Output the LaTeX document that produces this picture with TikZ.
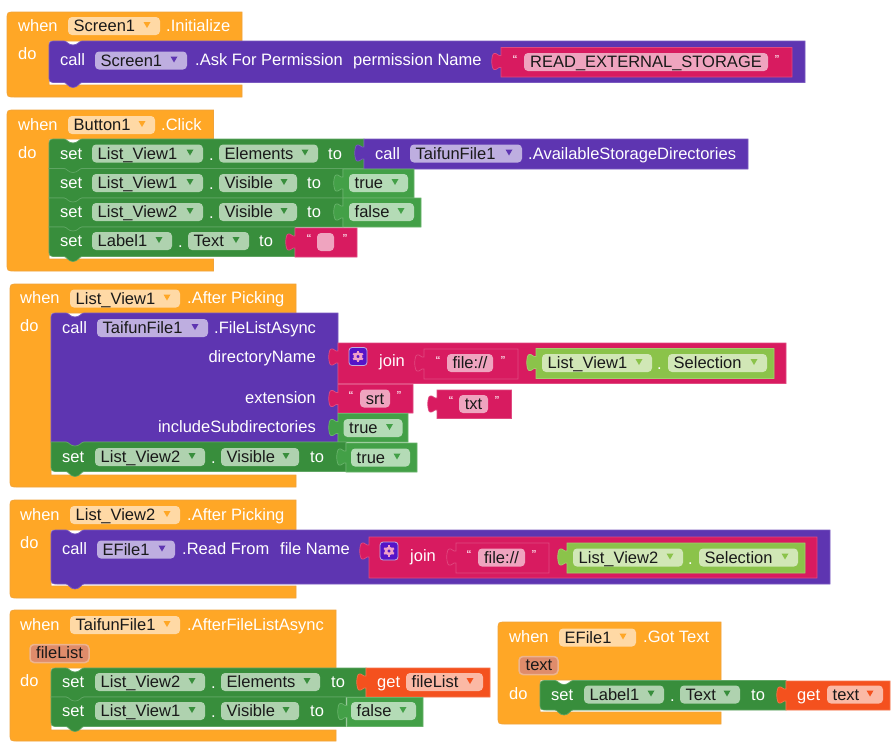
\documentclass[tikz,border=0pt]{standalone}
\usepackage{fontspec}
\setmainfont{Liberation Sans}
\definecolor{cOr}{HTML}{FFA726}\definecolor{cOrE}{HTML}{F0A33A}\definecolor{fOr}{HTML}{FFD9A5}
\definecolor{cPu}{HTML}{5E35B1}\definecolor{ePu}{HTML}{7A5AC0}\definecolor{fPu}{HTML}{BEAEE0}
\definecolor{cGr}{HTML}{388E3C}\definecolor{eGr}{HTML}{5FA563}\definecolor{fGr}{HTML}{AFD2AF}
\definecolor{cLg}{HTML}{43A047}\definecolor{eLg}{HTML}{68B36B}\definecolor{fLg}{HTML}{B4DBB6}
\definecolor{cPk}{HTML}{D81B60}\definecolor{ePk}{HTML}{E04A80}\definecolor{fPk}{HTML}{EFA4BF}
\definecolor{cLi}{HTML}{8BC34A}\definecolor{eLi}{HTML}{A2CF6E}\definecolor{fLi}{HTML}{D1E7B6}
\definecolor{cRe}{HTML}{F4511E}\definecolor{eRe}{HTML}{F6734A}\definecolor{fRe}{HTML}{FBB9A5}
\definecolor{cPa}{HTML}{DF8C6B}\definecolor{ePa}{HTML}{EDB48F}
\definecolor{cGe}{HTML}{5514C8}\definecolor{fGe}{HTML}{F0A0C8}
\newcounter{nn}
\tikzset{
  x=1pt,y=-1pt,
  lab/.style={anchor=base west,inner sep=0pt,text=white,font=\fontsize{16.5}{18}\selectfont},
  labr/.style={anchor=base east,inner sep=0pt,text=white,font=\fontsize{16.5}{18}\selectfont},
  flab/.style={anchor=base west,inner sep=0pt,text=black!90,font=\fontsize{16.5}{18}\selectfont},
  clab/.style={anchor=base,inner sep=0pt,text=black!90,font=\fontsize{16.5}{18}\selectfont},
  qlab/.style={anchor=base,inner sep=0pt,text=white,font=\fontsize{13}{14}\selectfont},
  edge/.style={line width=0.7pt},
}
% text in white: x, yc, text
\newcommand{\lbl}[3]{\stepcounter{nn}\node[lab] (n\thenn) at (#1,#2+5.5) {#3};}
\newcommand{\lblr}[3]{\stepcounter{nn}\node[labr] (n\thenn) at (#1,#2+5.5) {#3};}
% dropdown: x1,x2,yc,suffix colour,text
\newcommand{\fld}[5]{\stepcounter{nn}
  \fill[f#4,rounded corners=4pt] (#1,#3-9) rectangle (#2,#3+9);
  \node[flab] (n\thenn) at (#1+5.5,#3+5.5) {#5};
  \fill[c#4] (#2-16.5,#3-4) -- (#2-9.5,#3-4) -- (#2-13,#3+2) -- cycle;}
% text field: x1,x2,yc,text
\newcommand{\tfld}[4]{\stepcounter{nn}
  \fill[fPk,rounded corners=4pt] (#1,#3-9) rectangle (#2,#3+9);
  \node[clab] (n\thenn) at ({(#1+#2)/2},#3+5.5) {#4};}
% event: L,T,R,H,Ix,F,B
\newcommand{\evt}[7]{\filldraw[fill=cOr,draw=cOrE,edge] (#1,#2+8) .. controls (#1,#2) .. (#1+8,#2) -- (#3,#2) -- (#3,#4) -- (#5,#4) -- (#5,#6) -- (#3,#6) -- (#3,#7) -- (#1+8,#7) .. controls (#1,#7) .. (#1,#7-8) -- cycle;}
% statement: colour,x1,y1,x2,y2,rt,rb
\newcommand{\stm}[7]{\filldraw[fill=c#1,draw=e#1,edge] (#2,#3+#6) .. controls (#2,#3) .. (#2+#6,#3) -- (#2+15,#3) .. controls (#2+18,#3) and (#2+19,#3+4) .. (#2+24,#3+4) .. controls (#2+29,#3+4) and (#2+30,#3) .. (#2+33,#3) -- (#4,#3) -- (#4,#5)
  -- (#2+33,#5) .. controls (#2+30,#5) and (#2+29,#5+5) .. (#2+24,#5+5) .. controls (#2+19,#5+5) and (#2+18,#5) .. (#2+15,#5)
  -- (#2+#7,#5) .. controls (#2,#5) .. (#2,#5-#7) -- cycle;}
% value with puzzle tab: colour,x1,y1,x2,y2
\newcommand{\val}[5]{\filldraw[fill=c#1,draw=e#1,edge] (#2,#3) -- (#4,#3) -- (#4,#5) -- (#2,#5) -- (#2,#3+20) .. controls (#2-3,#3+19) and (#2-4,#3+23) .. (#2-7,#3+22) .. controls (#2-10,#3+21) and (#2-10,#3+7) .. (#2-7,#3+6) .. controls (#2-4,#3+5) and (#2-3,#3+9) .. (#2,#3+8) -- cycle;}
% gear icon: x,y top-left
\newcommand{\gear}[2]{
  \filldraw[fill=cGe,draw=fPu,line width=0.8pt,rounded corners=3pt] (#1,#2) rectangle (#1+18,#2+18);
  \draw[fGe,line width=2.6pt] (#1+9,#2+9) circle[radius=3];
  \foreach \a in {30,90,...,330}{\draw[fGe,line width=2.2pt] (#1+9,#2+9) ++(\a:3.6) -- ++(\a:2);}
}
\newcommand{\quot}[3]{\stepcounter{nn}\node[qlab] (n\thenn) at (#1,#2+2) {“};\stepcounter{nn}\node[qlab] (n\thenn) at (#3,#2+2) {”};}
\begin{document}
\begin{tikzpicture}
\useasboundingbox (0,0) rectangle (896,745);
\fill[white] (0,0) rectangle (896,745);
% ---- event 1
\evt{7}{12}{242}{41}{49}{85}{97}
\lbl{18}{25.5}{when}\fld{68}{160}{26}{Or}{Screen1}\lbl{166}{25.5}{.Initialize}\lbl{18}{54}{do}
\stm{Pu}{49}{41}{805}{82.5}{8}{8}
\lbl{60}{60}{call}\fld{95}{187}{60.5}{Pu}{Screen1}\lbl{195}{60}{.Ask For Permission}\lbl{353}{60}{permission Name}
\val{Pk}{501}{47.5}{792}{77}
\quot{515}{62}{777}\tfld{524}{768}{62}{READ\_EXTERNAL\_STORAGE}
% ---- event 2
\evt{7}{110}{213.5}{139}{49}{259}{271}
\lbl{18}{124.5}{when}\fld{68}{155}{125}{Or}{Button1}\lbl{161}{124.5}{.Click}\lbl{18}{153}{do}
\stm{Gr}{49}{139}{364}{168.5}{8}{0}
\lbl{60}{153.5}{set}\fld{92}{203}{153.5}{Gr}{List\_View1}\lbl{209}{154.5}{.}\fld{219}{318}{153.5}{Gr}{Elements}\lbl{328}{153.5}{to}
\val{Pu}{364}{139}{748}{169}
\lbl{375}{153.5}{call}\fld{410}{522}{153.5}{Pu}{TaifunFile1}\lbl{528}{153.5}{.AvailableStorageDirectories}
\stm{Gr}{49}{168.5}{343}{198}{0}{0}
\lbl{60}{183}{set}\fld{92}{203}{183}{Gr}{List\_View1}\lbl{209}{184}{.}\fld{219}{297}{183}{Gr}{Visible}\lbl{307}{183}{to}
\val{Lg}{343}{169}{414}{198}\fld{349}{408}{183}{Lg}{true}
\stm{Gr}{49}{198}{343}{227}{0}{0}
\lbl{60}{212}{set}\fld{92}{203}{212}{Gr}{List\_View2}\lbl{209}{213}{.}\fld{219}{297}{212}{Gr}{Visible}\lbl{307}{212}{to}
\val{Lg}{343}{198}{421}{227}\fld{349}{414}{212}{Lg}{false}
\stm{Gr}{49}{227}{295}{256.5}{0}{8}
\lbl{60}{241}{set}\fld{92}{172}{241}{Gr}{Label1}\lbl{178}{242}{.}\fld{188}{249}{241}{Gr}{Text}\lbl{259}{241}{to}
\val{Pk}{295}{228}{357}{257}\quot{309}{241}{345}\tfld{317}{334}{242}{}
% ---- event 3
\evt{10}{284}{296}{313}{51}{475}{487}
\lbl{20}{298}{when}\fld{70}{180}{298.5}{Or}{List\_View1}\lbl{187}{298}{.After Picking}\lbl{20}{326}{do}
\stm{Pu}{51}{313}{338}{442}{8}{0}
\lbl{62}{328}{call}\fld{97}{208}{328}{Pu}{TaifunFile1}\lbl{214}{328}{.FileListAsync}
\lblr{316}{356.5}{directoryName}\lblr{316}{398}{extension}\lblr{316}{427}{includeSubdirectories}
\val{Pk}{338}{343}{786}{383.5}
\gear{349}{347.5}\lbl{379}{361}{join}
\val{Pk}{424}{349}{518}{379}\quot{438}{363}{503}\tfld{447}{493}{363}{file://}
\val{Li}{536}{348.5}{774}{378.5}\fld{542}{652}{363}{Li}{List\_View1}\lbl{657}{364}{\textcolor{white}{.}}\fld{668}{767}{363}{Li}{Selection}
\val{Pk}{338}{384.5}{413}{413}\quot{351}{398.5}{399}\tfld{360}{390}{398.5}{srt}
\val{Pk}{437}{390}{511.5}{418.5}\quot{451}{403.5}{497}\tfld{459}{488}{404}{txt}
\val{Lg}{338}{413.5}{408}{442}\fld{343.5}{402.5}{428}{Lg}{true}
\stm{Gr}{51}{442}{346}{471.5}{0}{8}
\lbl{62}{457}{set}\fld{95}{205}{457}{Gr}{List\_View2}\lbl{211}{458}{.}\fld{221}{299}{457}{Gr}{Visible}\lbl{310}{457}{to}
\val{Lg}{346}{443}{417}{472}\fld{351}{410}{457.5}{Lg}{true}
% ---- event 4
\evt{10}{500}{296}{530}{51}{586}{598}
\lbl{20}{514.5}{when}\fld{70}{180}{515}{Or}{List\_View2}\lbl{187}{514.5}{.After Picking}\lbl{20}{543}{do}
\stm{Pu}{51}{530}{830}{584}{8}{8}
\lbl{62}{549}{call}\fld{97}{175}{549.5}{Pu}{EFile1}\lbl{182}{549}{.Read From}\lbl{280}{549}{file Name}
\val{Pk}{369}{537}{817}{578}
\gear{380}{542}\lbl{410}{556}{join}
\val{Pk}{456}{543}{549}{573}\quot{469}{557}{534}\tfld{478}{525}{557.5}{file://}
\val{Li}{567}{543}{805}{573}\fld{573}{683}{557.5}{Li}{List\_View2}\lbl{688}{558.5}{\textcolor{white}{.}}\fld{699}{798}{557.5}{Li}{Selection}
% ---- event 5
\evt{10}{610}{336}{668}{51}{730}{741}
\lbl{20}{624.5}{when}\fld{70}{180}{625}{Or}{TaifunFile1}\lbl{187}{624.5}{.AfterFileListAsync}
\filldraw[fill=cPa,draw=ePa,line width=1.5pt,rounded corners=4pt] (30,644.5) rectangle (89,662.5);
\stepcounter{nn}\node[flab] (n\thenn) at (36,658.5) {fileList};
\lbl{20}{681}{do}
\stm{Gr}{51}{668}{366}{697}{8}{0}
\lbl{62}{682}{set}\fld{95}{205}{682}{Gr}{List\_View2}\lbl{211}{683}{.}\fld{221}{320}{682}{Gr}{Elements}\lbl{331}{682}{to}
\val{Re}{366}{668}{490}{697}
\lbl{377}{682}{get}\fld{406}{483}{682}{Re}{fileList}
\stm{Gr}{51}{697}{346}{726.5}{0}{8}
\lbl{62}{711}{set}\fld{95}{205}{711}{Gr}{List\_View1}\lbl{211}{712}{.}\fld{221}{299}{711}{Gr}{Visible}\lbl{310}{711}{to}
\val{Lg}{347}{697.5}{423}{726.5}\fld{351}{416}{711}{Lg}{false}
% ---- event 6
\evt{498}{622}{721}{680}{540}{712}{724}
\lbl{509}{637}{when}\fld{559}{636}{637.5}{Or}{EFile1}\lbl{643}{637}{.Got Text}
\filldraw[fill=cPa,draw=ePa,line width=1.5pt,rounded corners=4pt] (519,656.5) rectangle (558,674.5);
\stepcounter{nn}\node[flab] (n\thenn) at (525.5,670.5) {text};
\lbl{509}{694}{do}
\stm{Gr}{540}{680.5}{786}{710}{8}{8}
\lbl{551}{694.5}{set}\fld{584}{664}{694.5}{Gr}{Label1}\lbl{670}{695.5}{.}\fld{680}{740}{694.5}{Gr}{Text}\lbl{751}{694.5}{to}
\val{Re}{786}{681}{890}{710}
\lbl{797}{694.5}{get}\fld{827}{883}{694.5}{Re}{text}
\end{tikzpicture}
\end{document}
